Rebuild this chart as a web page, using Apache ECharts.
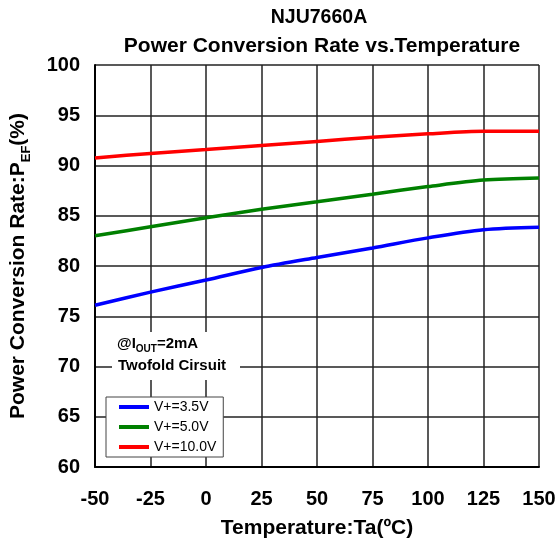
<!DOCTYPE html>
<html>
<head>
<meta charset="utf-8">
<script src="https://cdn.jsdelivr.net/npm/echarts@6/dist/echarts.min.js"></script>
<style>html,body{margin:0;padding:0;background:#fff;}#c{width:560px;height:549px;}</style>
</head>
<body>
<div id="c"></div>
<script>
const temps = [-50, -25, 0, 25, 50, 75, 100, 125, 150];
const v35 = [76.1, 77.4, 78.6, 79.85, 80.85, 81.8, 82.8, 83.6, 83.85];
const v50 = [83.0, 83.9, 84.8, 85.65, 86.4, 87.15, 87.9, 88.55, 88.75];
const v100 = [90.75, 91.2, 91.6, 92.0, 92.4, 92.8, 93.15, 93.4, 93.4];
const seriesNames = ['V+=3.5V', 'V+=5.0V', 'V+=10.0V'];
const seriesColors = ['#0000ff', '#008000', '#ff0000'];
const seriesData = [v35, v50, v100];

const FONT = 'Liberation Sans, Arial, sans-serif';
const chart = echarts.init(document.getElementById('c'), null, {renderer: 'canvas'});
const gridL = 95, gridR = 21, gridT = 65, gridB = 82;

chart.setOption({
  backgroundColor: '#fff',
  animation: false,
  title: [
    {text: 'NJU7660A', left: 314, top: 3, textAlign: 'center',
     textStyle: {fontFamily: FONT, fontWeight: 'bold', fontSize: 19.5, color: '#000'}},
    {text: 'Power Conversion Rate vs.Temperature', left: 317, top: 31, textAlign: 'center',
     textStyle: {fontFamily: FONT, fontWeight: 'bold', fontSize: 21, color: '#000'}}
  ],
  grid: {left: gridL, right: gridR, top: gridT, bottom: gridB, containLabel: false, outerBoundsMode: 'none'},
  legend: {
    orient: 'vertical', left: 106, top: 397,
    data: seriesNames,
    icon: 'rect', itemWidth: 30, itemHeight: 4, itemGap: 6,
    padding: [3, 7, 3, 13],
    backgroundColor: '#fff', borderColor: '#444', borderWidth: 1, borderRadius: 0,
    textStyle: {fontFamily: FONT, fontSize: 14, color: '#000', lineHeight: 14}
  },
  xAxis: {
    type: 'value', min: -50, max: 150, interval: 25,
    name: 'Temperature:Ta(ºC)', nameLocation: 'middle', nameGap: 51,
    nameTextStyle: {fontFamily: FONT, fontWeight: 'bold', fontSize: 21, color: '#000'},
    axisLine: {show: true, onZero: false, lineStyle: {color: '#000', width: 2}},
    axisTick: {show: false},
    axisLabel: {fontFamily: FONT, fontWeight: 'bold', fontSize: 20, color: '#000', margin: 22},
    splitLine: {show: true, lineStyle: {color: '#222', width: 1.5}}
  },
  yAxis: {
    type: 'value', min: 60, max: 100, interval: 5,
    name: 'Power Conversion Rate:P{s|EF}(%)', nameLocation: 'middle', nameGap: 66,
    nameTextStyle: {fontFamily: FONT, fontWeight: 'bold', fontSize: 21, color: '#000',
      rich: {s: {fontFamily: FONT, fontWeight: 'bold', fontSize: 13, color: '#000', verticalAlign: 'bottom', padding: [0, 0, -4, 0]}}},
    axisLine: {show: true, onZero: false, lineStyle: {color: '#000', width: 2}},
    axisTick: {show: false},
    axisLabel: {fontFamily: FONT, fontWeight: 'bold', fontSize: 20, color: '#000', margin: 15},
    splitLine: {show: true, lineStyle: {color: '#222', width: 1.5}}
  },
  graphic: [
    {type: 'rect', left: 112, top: 332, shape: {width: 128, height: 48}, style: {fill: '#fff'}, z: 5},
    {type: 'text', left: 117, top: 336, z: 6,
     style: {text: '@I{s|OUT}=2mA', font: 'bold 15px ' + FONT, fill: '#000',
       rich: {s: {font: 'bold 10px ' + FONT, fill: '#000', verticalAlign: 'bottom', padding: [0, 0, -3, 0]}}}},
    {type: 'text', left: 118, top: 358, z: 6,
     style: {text: 'Twofold Cirsuit', font: 'bold 15px ' + FONT, fill: '#000'}}
  ],
  series: seriesNames.map((n, i) => ({
    name: n, type: 'line', smooth: 0.3, showSymbol: false, symbol: 'none',
    data: temps.map((t, j) => [t, seriesData[i][j]]),
    lineStyle: {color: seriesColors[i], width: 3.5},
    itemStyle: {color: seriesColors[i]},
    z: 3
  }))
});
</script>
</body>
</html>
